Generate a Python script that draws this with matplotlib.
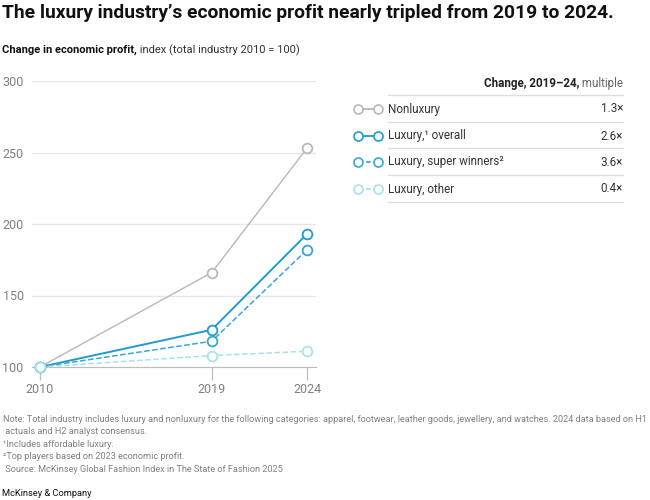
import matplotlib
matplotlib.use("Agg")
import matplotlib.pyplot as plt

plt.rcParams['font.family'] = ['Roboto', 'DejaVu Sans']

# data
years = [2010, 2019, 2024]
nonluxury = [100, 166, 253]
luxury_overall = [100, 126, 193]
luxury_super = [100, 118, 182]
luxury_other = [100, 108, 111]

series_names = ['Nonluxury', 'Luxury,\u00b9 overall', 'Luxury, super winners\u00b2', 'Luxury, other']
multiples = ['1.3\u00d7', '2.6\u00d7', '3.6\u00d7', '0.4\u00d7']
yticks = [100, 150, 200, 250, 300]

colors = ['#b8b8b8', '#1f9ccb', '#3aa6cf', '#a9e1ec']
styles = ['-', '-', '--', '--']
widths = [1.0, 1.4, 1.1, 1.1]
values = [nonluxury, luxury_overall, luxury_super, luxury_other]

W, H = 650, 500
fig = plt.figure(figsize=(6.5, 5), dpi=100)

# main chart
ax = fig.add_axes([32 / W, 1 - 367 / H, (316 - 32) / W, (367 - 81) / H])
for vals, c, ls, lw in zip(values, colors, styles, widths):
    ax.plot(years, vals, color=c, ls=ls, lw=lw, marker='o', ms=7,
            mfc='white', mec=c, mew=1.3, clip_on=False, zorder=3)
ax.set_xlim(2009.58, 2024.47)
ax.set_ylim(100, 300)
ax.set_yticks(yticks)
ax.set_xticks(years)
ax.set_yticklabels([str(v) for v in yticks])
ax.set_xticklabels([str(y) for y in years])
ax.grid(axis='y', color='#e6e6e6', lw=0.9)
ax.set_axisbelow(True)
for s in ['top', 'right', 'left']:
    ax.spines[s].set_visible(False)
ax.spines['bottom'].set_color('#bdbdbd')
ax.tick_params(axis='y', length=0, pad=6, labelsize=9, labelcolor='#808080')
ax.tick_params(axis='x', length=9, width=0.9, color='#bdbdbd', pad=2.5,
               labelsize=9, labelcolor='#808080')

# legend table drawn in pixel space
lg = fig.add_axes([0, 0, 1, 1])
lg.set_xlim(0, W)
lg.set_ylim(H, 0)
lg.axis('off')
fs_leg = 8.4
t2 = lg.text(623, 84, ' multiple', ha='right', va='center', fontsize=fs_leg, color='#666666')
fig.canvas.draw()
bb = t2.get_window_extent()
x0 = lg.transData.inverted().transform((bb.x0, bb.y0))[0]
lg.text(x0, 84, 'Change, 2019\u201324,', ha='right', va='center', fontsize=fs_leg,
        fontweight='bold', color='#222222')

row_y = [109, 136, 162, 189]
for y in [95, 122, 148, 175, 202]:
    lg.plot([388, 623], [y, y], color='#dddddd', lw=0.9)
for name, mult, c, ls, y in zip(series_names, multiples, colors, styles, row_y):
    lg.plot([358, 378], [y, y], color=c, ls=ls, lw=1.3, dashes=(2.5, 2) if ls == '--' else (None, None))
    lg.plot([358, 378], [y, y], ls='none', marker='o', ms=6.5, mfc='white', mec=c, mew=1.2)
    lg.text(388, y, name, ha='left', va='center', fontsize=fs_leg, color='#333333')
    lg.text(623, y, mult, ha='right', va='center', fontsize=fs_leg, color='#333333')

# titles
fig.text(2 / W, 1 - 13 / H, 'The luxury industry\u2019s economic profit nearly tripled from 2019 to 2024.',
         ha='left', va='center', fontsize=13.9, fontweight='bold', color='#111111')
st = fig.text(2 / W, 1 - 50 / H, 'Change in economic profit,', ha='left', va='center',
              fontsize=8.0, fontweight='bold', color='#111111')
fig.canvas.draw()
sb = st.get_window_extent()
fig.text(sb.x1 / W, 1 - 50 / H, ' index (total industry 2010 = 100)', ha='left', va='center',
         fontsize=8.0, color='#333333')

notes = [
    'Note: Total industry includes luxury and nonluxury for the following categories: apparel, footwear, leather goods, jewellery, and watches. 2024 data based on H1',
    ' actuals and H2 analyst consensus.',
    '\u00b9Includes affordable luxury.',
    '\u00b2Top players based on 2023 economic profit.',
    ' Source: McKinsey Global Fashion Index in The State of Fashion 2025',
]
for i, line in enumerate(notes):
    fig.text(3 / W, 1 - (419 + i * 12.6) / H, line, ha='left', va='center',
             fontsize=6.6, color='#808080')

fig.text(2 / W, 1 - 493 / H, 'McKinsey & Company', ha='left', va='center',
         fontsize=6.7, color='#111111')

fig.savefig('out.png', dpi=100)
